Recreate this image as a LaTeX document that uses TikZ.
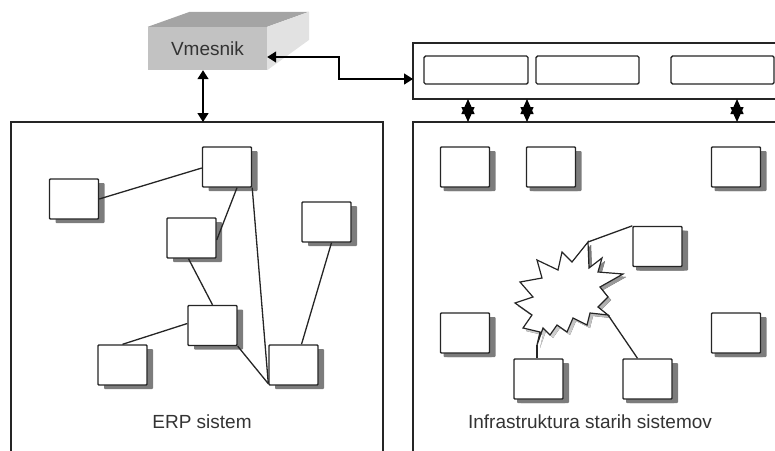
\documentclass[tikz,border=0pt]{standalone}
\usepackage{fontspec}
\setmainfont{Liberation Sans}
\usetikzlibrary{arrows.meta,shadows,calc}
\definecolor{edge}{HTML}{252525}
\definecolor{shade}{HTML}{7C7C7C}
\definecolor{labelgray}{HTML}{333333}
\definecolor{faceFront}{HTML}{C2C2C2}
\definecolor{faceTop}{HTML}{A4A4A4}
\definecolor{faceSide}{HTML}{E2E2E2}
\newcommand{\burstpath}{(588,242) -- (589,268) -- (602,258) -- (598,272) -- (623,274) -- (600,287) -- (608,297) -- (598,307) -- (608,315) -- (590,313) -- (587,325) -- (573,318) -- (567,332) -- (557,325) -- (550,335) -- (543,328) -- (537,345) -- (540,332) -- (523,328) -- (532,315) -- (515,303) -- (533,297) -- (520,282) -- (542,278) -- (537,260) -- (558,270) -- (562,252) -- (572,262) -- cycle}
\begin{document}
\begin{tikzpicture}[x=1pt,y=-1pt,
  frame/.style={draw=edge,line width=1.6pt},
  comp/.style={draw=edge,line width=1.4pt,fill=white,minimum width=49pt,minimum height=40pt,
    inner sep=0pt,rounded corners=0.8pt,
    drop shadow={shadow xshift=6pt,shadow yshift=-4pt,opacity=1,fill=shade}},
  legacy/.style={comp,drop shadow={shadow xshift=3pt,shadow yshift=-4pt,opacity=1,fill=shade}},
  slot/.style={draw=edge,line width=1.4pt,fill=white,inner sep=0pt,rounded corners=1.5pt,
    minimum height=28pt},
  link/.style={draw=edge,line width=1.3pt},
  biarrow/.style={draw=black,line width=1.5pt,{Triangle[length=9pt,width=11pt]}-{Triangle[length=9pt,width=11pt]}},
  portarrow/.style={draw=black,line width=1.4pt,{Triangle[length=15pt,width=13pt]}-{Triangle[length=15pt,width=13pt]}},
  caption/.style={text=labelgray,font=\fontsize{19}{22}\selectfont,inner sep=0pt}
]
\useasboundingbox (0,0) rectangle (775,450);

% middleware block (3-D box)
\node[fill=faceFront,minimum width=119pt,minimum height=43pt,inner sep=0pt,
      text=labelgray,font=\fontsize{19}{22}\selectfont] (vm) at (207.5,48.5) {Vmesnik};
\fill[faceTop] (vm.north west) -- ++(42,-15) -- ++(119,0) -- (vm.north east) -- cycle;
\fill[faceSide] (vm.north east) -- ++(42,-15) -- ++(0,28) -- (vm.south east) -- cycle;

% ERP system frame (open at the bottom)
\draw[frame] (11,452) -- (11,122) -- (383,122) -- (383,452);
\coordinate (erpTop) at (203,122);

% legacy infrastructure frame
\draw[frame] (413,452) -- (413,122) -- (777,122);

% integration bar with its slots
\draw[frame] (777,43) -- (413,43) -- (413,99) -- (777,99);
\coordinate (barIn) at (413,79);
\node[slot,minimum width=104pt] (s1) at (476,70) {};
\node[slot,minimum width=103pt] (s2) at (587.5,70) {};
\node[slot,minimum width=103pt] (s3) at (722.5,70) {};

% ports between bar and legacy systems
\coordinate (p1a) at (468,99);  \coordinate (p1b) at (468,122);
\coordinate (p2a) at (527,99);  \coordinate (p2b) at (527,122);
\coordinate (p3a) at (737,99);  \coordinate (p3b) at (737,122);
\draw[portarrow] (p1a) -- (p1b);
\draw[portarrow] (p2a) -- (p2b);
\draw[portarrow] (p3a) -- (p3b);

% middleware connections
\draw[biarrow] ([xshift=-4.5pt]vm.south) -- (erpTop);
\draw[biarrow] ([yshift=-8.5pt]vm.east) -- ++(72,0) |- (barIn);

% ERP components
\node[comp] (e1) at (74,199) {};
\node[comp] (e2) at (227,167) {};
\node[comp] (e3) at (191.5,238) {};
\node[comp] (e4) at (326.5,222) {};
\node[comp] (e5) at (212.5,325.5) {};
\node[comp] (e6) at (122.5,365) {};
\node[comp] (e7) at (293.5,365) {};

\draw[link] (e1.east) -- ([yshift=-1pt]e2.west);
\draw[link] ([xshift=10pt]e2.south) -- ([yshift=-2pt]e3.east);
\draw[link] (e2.south east) -- ([yshift=2pt]e7.south west);
\draw[link] ([xshift=-3pt]e3.south) -- (e5.north);
\draw[link] ([yshift=2pt]e5.west) -- (e6.north);
\draw[link] ([xshift=5pt]e4.south) -- ([xshift=8pt]e7.north);
\draw[link] (e5.south east) -- ([yshift=2pt]e7.south west);

\node[caption] (erpLabel) at (202,422) {ERP sistem};

% legacy components
\node[legacy] (l1) at (465,167) {};
\node[legacy] (l2) at (551,167) {};
\node[legacy] (l3) at (736,167) {};
\node[legacy] (l4) at (657.5,246.5) {};
\node[legacy] (l5) at (465,333) {};
\node[legacy] (l6) at (736,333) {};
\node[legacy] (l7) at (538.5,379) {};
\node[legacy] (l8) at (647.5,379) {};

% failure burst
\fill[shade,opacity=0.85,shift={(3,3)}] \burstpath;
\draw[draw=edge,line width=1.2pt,fill=white,line join=miter] \burstpath;
\coordinate (bTop) at (588,242);
\coordinate (bRight) at (608,315);
\coordinate (bLow) at (537,345);
\draw[link] (bTop) -- (l4.north west);
\draw[link] (bRight) -- ([xshift=-10pt]l8.north);
\draw[link] (bLow) -- (bLow |- l7.north);

\node[caption] (legLabel) at (590,422) {Infrastruktura starih sistemov};
\end{tikzpicture}
\end{document}
